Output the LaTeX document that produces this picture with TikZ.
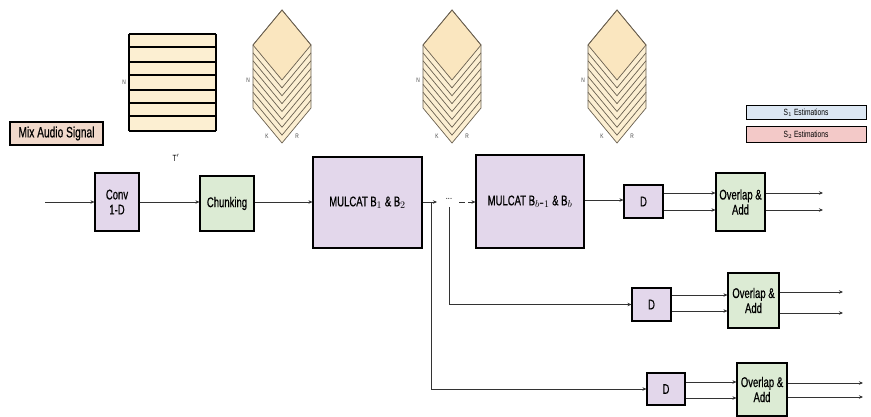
\documentclass[tikz,border=0pt]{standalone}
\usepackage{fontspec}
\setmainfont{Liberation Sans}
\newfontfamily\nf{Liberation Sans}[FakeStretch=0.68,FakeBold=0.6]
\newfontfamily\nfl{Liberation Sans}[FakeStretch=0.74]
\usetikzlibrary{arrows.meta}
\definecolor{purp}{HTML}{E3D7EB}
\definecolor{grn}{HTML}{DCEBD4}
\definecolor{mixc}{HTML}{F1D9CB}
\definecolor{cream}{HTML}{FCEFD2}
\definecolor{topf}{HTML}{FAE6BF}
\definecolor{sone}{HTML}{DCE7F3}
\definecolor{stwo}{HTML}{F3C9C8}
\definecolor{lc}{HTML}{333333}
\definecolor{ec}{HTML}{6A6050}
\begin{document}
\begin{tikzpicture}[x=1pt,y=-1pt,
  box/.style={draw=black, line width=1.1pt, inner sep=0pt, align=center, font=\nf\fontsize{14}{15}\selectfont},
  pbox/.style={box, fill=purp},
  gbox/.style={box, fill=grn},
  ln/.style={draw=lc, line width=0.8pt},
  arr/.style={ln, -{Stealth[length=4pt,width=3.5pt]}},
  tiny/.style={font=\nfl\fontsize{6.5}{6.5}\selectfont, inner sep=0pt, text=black!75},
  cube/.style={draw=ec, line width=0.7pt}]
\useasboundingbox (0,0) rectangle (871,417);

% Mix audio signal
\node[box, fill=mixc, line width=1.6pt, minimum width=93pt, minimum height=23pt, font=\nf\fontsize{15}{15}\selectfont] (mix) at (56.5,133.5) {Mix Audio Signal};

% chunk stack rectangle
\fill[cream] (129,34) rectangle (216,131);
\foreach \yy in {34,47,62,75,90,103,116,131} \draw[line width=1.2pt] (129,\yy) -- (216,\yy);
\draw[line width=1.2pt] (129,34) -- (129,131) (216,34) -- (216,131);
\node[tiny] (rn) at (124,82) {N};
\node[font=\nfl\fontsize{9}{9}\selectfont, inner sep=0pt] (tp) at (176,158) {T$'$};

% cubes
\foreach \c/\nm in {282/a,452/b,617/c}{
  \fill[cream] (\c,10) -- (\c+29,45) -- (\c+29,108) -- (\c,143) -- (\c-29,108) -- (\c-29,45) -- cycle;
  \foreach \k in {1,...,7} \draw[cube] (\c-29,45+\k*7.875) -- (\c,80+\k*7.875) -- (\c+29,45+\k*7.875);
  \draw[cube, fill=topf] (\c,10) -- (\c+29,45) -- (\c,80) -- (\c-29,45) -- cycle;
  \draw[cube] (\c,10) -- (\c+29,45) -- (\c+29,108) -- (\c,143) -- (\c-29,108) -- (\c-29,45) -- cycle;
  \node[tiny] (n\nm) at (\c-34,80) {N};
  \node[tiny] (k\nm) at (\c-15,136) {K};
  \node[tiny] (r\nm) at (\c+15,136) {R};
}

% estimations
\node[box, fill=sone, line width=1pt, minimum width=120pt, minimum height=14pt, font=\nfl\fontsize{9}{9}\selectfont] (s1) at (806,113) {S$_1$ Estimations};
\node[box, fill=stwo, line width=1pt, minimum width=120pt, minimum height=16pt, font=\nfl\fontsize{9}{9}\selectfont] (s2) at (806,135) {S$_2$ Estimations};

% main blocks
\node[pbox, minimum width=44pt, minimum height=58pt] (conv) at (117,202) {Conv\\1-D};
\node[gbox, minimum width=54pt, minimum height=55pt] (chunk) at (227,203.5) {Chunking};
\node[pbox, minimum width=109pt, minimum height=91pt] (mul1) at (367.5,202.5) {MULCAT B$_1$ \& B$_2$};
\node[pbox, minimum width=108pt, minimum height=93pt] (mul2) at (530,201.5) {MULCAT B$_{b\textrm{-}1}$ \& B$_b$};
\node[pbox, minimum width=39pt, minimum height=33pt] (d1) at (643.5,201.5) {D};
\node[gbox, minimum width=49pt, minimum height=58pt] (oa1) at (740.5,202) {Overlap \&\\Add};
\node[pbox, minimum width=39pt, minimum height=33pt] (d2) at (651.5,304.5) {D};
\node[gbox, minimum width=51pt, minimum height=55pt] (oa2) at (753.5,300.5) {Overlap \&\\Add};
\node[pbox, minimum width=38pt, minimum height=32pt] (d3) at (666,389) {D};
\node[gbox, minimum width=50pt, minimum height=53pt] (oa3) at (762,389.5) {Overlap \&\\Add};

% coordinates
\coordinate (in) at (45,202);
\coordinate (m1o) at (437,202);
\coordinate (br1) at (431,202);
\coordinate (br2) at (449,207);
\coordinate (m2i) at (459,202);
\node[font=\nfl\fontsize{10}{10}\selectfont, inner sep=0pt] (dots) at (449,199) {...};
\coordinate (o1a) at (823,193);
\coordinate (o1b) at (823,210);
\coordinate (o2a) at (843,292);
\coordinate (o2b) at (843,313);
\coordinate (o3a) at (863,383);
\coordinate (o3b) at (863,397);

% connectors
\draw[arr] (in) -- (conv.west);
\draw[arr] (conv.east) -- (conv.east -| chunk.west);
\draw[arr] (chunk.east |- in) -- (mul1.west |- in);
\draw[arr] (mul1.east |- m1o) -- (m1o);
\draw[arr, dash pattern=on 6pt off 3pt] (m2i) -- (mul2.west |- m2i);
\draw[arr] (mul2.east |- 0,200) -- (d1.west |- 0,200);
\draw[arr] (br1) |- (d3.west);
\draw[arr] (br2) |- (d2.west);

\draw[arr] (d1.east |- 0,193) -- (oa1.west |- 0,193);
\draw[arr] (d1.east |- 0,210) -- (oa1.west |- 0,210);
\draw[arr] (oa1.east |- o1a) -- (o1a);
\draw[arr] (oa1.east |- o1b) -- (o1b);

\draw[arr] (d2.east |- 0,295) -- (oa2.west |- 0,295);
\draw[arr] (d2.east |- 0,311) -- (oa2.west |- 0,311);
\draw[arr] (oa2.east |- o2a) -- (o2a);
\draw[arr] (oa2.east |- o2b) -- (o2b);

\draw[arr] (d3.east |- 0,382) -- (oa3.west |- 0,382);
\draw[arr] (d3.east |- 0,398) -- (oa3.west |- 0,398);
\draw[arr] (oa3.east |- o3a) -- (o3a);
\draw[arr] (oa3.east |- o3b) -- (o3b);
\end{tikzpicture}
\end{document}
